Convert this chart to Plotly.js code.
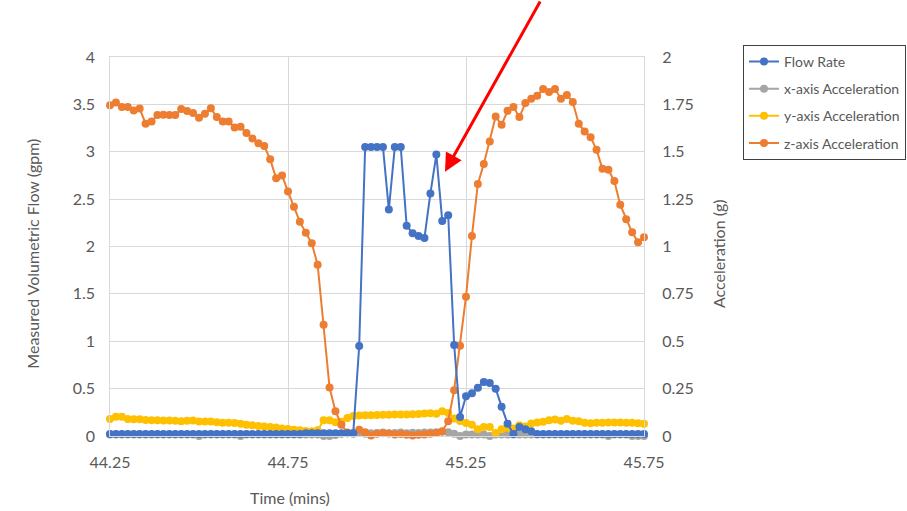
<!DOCTYPE html>
<html>
<head>
<meta charset="utf-8">
<script src="https://cdn.plot.ly/plotly-3.0.1.min.js"></script>
<style>html,body{margin:0;padding:0;background:#fff;}#chart{width:907px;height:511px;}</style>
</head>
<body>
<div id="chart"></div>
<script>
// Time stamps (mins)
var timeMins = [44.25,44.2667,44.2833,44.3,44.3167,44.3333,44.35,44.3667,44.3833,44.4,
44.4167,44.4333,44.45,44.4667,44.4833,44.5,44.5167,44.5333,44.55,44.5667,
44.5833,44.6,44.6167,44.6333,44.65,44.6667,44.6833,44.7,44.7167,44.7333,
44.75,44.7667,44.7833,44.8,44.8167,44.8333,44.85,44.8667,44.8833,44.9,
44.9167,44.9333,44.95,44.9667,44.9833,45,45.0167,45.0333,45.05,45.0667,
45.0833,45.1,45.1167,45.1333,45.15,45.1667,45.1833,45.2,45.2167,45.2333,
45.25,45.2667,45.2833,45.3,45.3167,45.3333,45.35,45.3667,45.3833,45.4,
45.4167,45.4333,45.45,45.4667,45.4833,45.5,45.5167,45.5333,45.55,45.5667,
45.5833,45.6,45.6167,45.6333,45.65,45.6667,45.6833,45.7,45.7167,45.7333,45.75];

// Measured volumetric flow (gpm)
var flowRate = [0.02,0.02,0.02,0.02,0.02,0.02,0.02,0.02,0.02,0.02,
0.02,0.02,0.02,0.02,0.02,0.02,0.02,0.02,0.02,0.02,
0.02,0.02,0.02,0.02,0.02,0.02,0.02,0.02,0.02,0.02,
0.02,0.02,0.02,0.03,0.03,0.03,0.03,0.03,0.03,0.03,
0.03,0.03,0.95,3.05,3.05,3.05,3.05,2.39,3.05,3.05,
2.22,2.14,2.11,2.09,2.56,2.97,2.27,2.33,0.96,0.2,
0.42,0.45,0.51,0.57,0.56,0.5,0.31,0.13,0.02,0.095,
0.07,0.05,0.02,0.02,0.02,0.02,0.02,0.02,0.02,0.02,
0.02,0.02,0.02,0.02,0.02,0.02,0.02,0.02,0.02,0.02,0.02];

// x-axis acceleration (g)
var accelX = [0.008,0.008,0.008,0.008,0.008,0.008,0.008,0.008,0.008,0.008,
0.008,0.008,0.008,0.008,0.008,0,0.008,0.008,0.008,0.008,
0.008,0.008,0,0.008,0.008,0.008,0.008,0.008,0.008,0.008,
0.008,0.008,0.008,0.008,0.008,0.008,0,0,0.005,0.012,
0.015,0.012,0.016,0.012,0.014,0.016,0.018,0.014,0.016,0.018,
0.015,0.017,0.016,0.018,0.019,0.02,0.022,0.02,0.012,0,
0.008,0.008,0.008,0.008,0,0.008,0.008,0.008,0.008,0.008,
0.008,0.008,0.008,0.008,0.008,0.008,0.008,0.008,0.008,0.008,
0.008,0.008,0.008,0.008,0,0.008,0.008,0.008,0,0,0];

// y-axis acceleration (g)
var accelY = [0.09,0.102,0.102,0.09,0.088,0.088,0.085,0.083,0.083,0.082,
0.082,0.08,0.078,0.08,0.082,0.077,0.076,0.076,0.072,0.07,
0.07,0.068,0.065,0.06,0.057,0.053,0.05,0.047,0.045,0.04,
0.037,0.033,0.03,0.027,0.025,0.03,0.083,0.083,0.072,0.075,
0.095,0.106,0.108,0.11,0.11,0.111,0.112,0.112,0.113,0.113,
0.114,0.115,0.116,0.119,0.12,0.118,0.13,0.122,0.092,0.079,
0.069,0.06,0.035,0.048,0.047,0.016,0.035,0.044,0.04,0.057,
0.05,0.066,0.071,0.075,0.083,0.087,0.08,0.09,0.08,0.078,
0.07,0.067,0.07,0.07,0.071,0.071,0.071,0.07,0.07,0.067,0.064];

// z-axis acceleration (g)
var accelZ = [1.746,1.76,1.736,1.736,1.718,1.728,1.648,1.66,1.694,1.695,
1.694,1.694,1.725,1.715,1.705,1.68,1.70,1.729,1.683,1.66,
1.66,1.628,1.632,1.599,1.57,1.545,1.53,1.46,1.36,1.375,
1.29,1.21,1.13,1.073,1.017,0.904,0.587,0.256,0.131,0.06,
0.018,0.016,0.033,0.02,0.003,0.012,0.015,0.013,0.008,0.01,
0.006,0.003,0.006,0.008,0.012,0.016,0.025,0.078,0.242,0.476,
0.735,1.056,1.33,1.436,1.554,1.686,1.642,1.716,1.736,1.683,
1.757,1.78,1.796,1.831,1.815,1.831,1.78,1.80,1.762,1.648,
1.607,1.577,1.51,1.41,1.405,1.345,1.22,1.144,1.075,1.022,1.049];

var xTickVals = [44.25, 44.75, 45.25, 45.75];
var xTickText = ["44.25", "44.75", "45.25", "45.75"];

var FONT = "Lato, 'Liberation Sans', sans-serif";
var TXT = "#595959";
var GRID = "#D9D9D9";

function series(name, y, color, axis, rank) {
  return {
    type: "scatter", mode: "lines+markers", name: name,
    x: timeMins, y: y, yaxis: axis,
    line: {color: color, width: 2},
    marker: {color: color, size: 8},
    legendrank: rank, legendgroup: name,
    cliponaxis: false
  };
}

var data = [
  series("x-axis Acceleration", accelX, "#A5A5A5", "y", 2),
  series("y-axis Acceleration", accelY, "#FFC000", "y", 3),
  series("z-axis Acceleration", accelZ, "#ED7D31", "y", 4),
  series("Flow Rate", flowRate, "#4472C4", "y2", 1)
];

var layout = {
  width: 907, height: 511,
  margin: {l: 110, r: 263, t: 57, b: 75, pad: 0, autoexpand: false},
  paper_bgcolor: "#ffffff", plot_bgcolor: "#ffffff",
  font: {family: FONT, color: TXT, size: 16},
  showlegend: true,
  xaxis: {
    range: [44.25, 45.75], tickmode: "array", tickvals: xTickVals, ticktext: xTickText,
    showgrid: true, gridcolor: GRID, gridwidth: 1, zeroline: false,
    showline: true, linecolor: GRID, linewidth: 1, mirror: true,
    ticks: "", ticklabelstandoff: 12,
    tickfont: {family: FONT, color: TXT, size: 16}
  },
  yaxis: {
    side: "right", range: [0, 2], dtick: 0.25, tick0: 0,
    showgrid: true, gridcolor: GRID, gridwidth: 1, zeroline: false,
    showline: true, linecolor: GRID, linewidth: 1, mirror: true,
    ticks: "", ticklabelstandoff: 14,
    tickfont: {family: FONT, color: TXT, size: 16}
  },
  yaxis2: {
    overlaying: "y", side: "left", anchor: "x", range: [0, 4], dtick: 0.5, tick0: 0,
    showgrid: false, zeroline: false, showline: false,
    ticks: "", ticklabelstandoff: 14,
    tickfont: {family: FONT, color: TXT, size: 16}
  },
  legend: {
    x: 1.1854, xanchor: "left", y: 1.032, yanchor: "top",
    bordercolor: "#404040", borderwidth: 1, bgcolor: "#ffffff",
    font: {family: FONT, color: TXT, size: 14},
    traceorder: "grouped", tracegroupgap: 6, itemwidth: 30
  },
  annotations: [
    {xref: "paper", yref: "paper", x: -0.145, y: 0.48, text: "Measured Volumetric Flow (gpm)",
     textangle: -90, showarrow: false, font: {family: FONT, color: TXT, size: 16},
     xanchor: "center", yanchor: "middle"},
    {xref: "paper", yref: "paper", x: 1.1386, y: 0.48, text: "Acceleration (g)",
     textangle: -90, showarrow: false, font: {family: FONT, color: TXT, size: 16},
     xanchor: "center", yanchor: "middle"},
    {xref: "paper", yref: "paper", x: 0.337, y: -0.161, text: "Time (mins)",
     showarrow: false, font: {family: FONT, color: TXT, size: 16},
     xanchor: "center", yanchor: "middle"},
    {xref: "x", yref: "y2", x: 45.191, y: 2.79, text: "", showarrow: true,
     ax: 96, ay: -176, arrowcolor: "#FF0000", arrowwidth: 3, arrowhead: 2, arrowsize: 1.2,
     standoff: 0}
  ]
};

Plotly.newPlot("chart", data, layout, {displayModeBar: false, staticPlot: true});
</script>
</body>
</html>
